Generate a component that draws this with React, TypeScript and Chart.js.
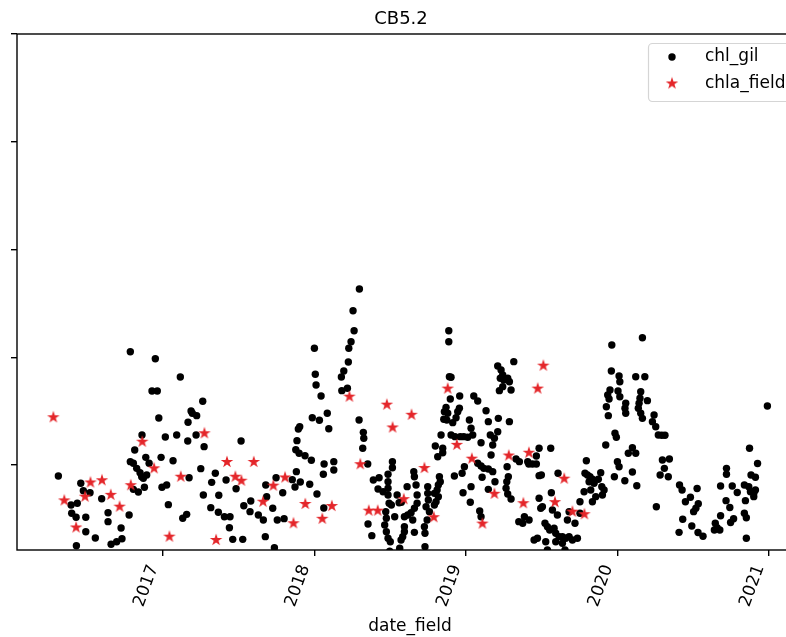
import React, { useEffect, useRef } from 'react';
import { Chart, registerables } from 'chart.js';

Chart.register(...registerables);

const TITLE = 'CB5.2';
const X_LABEL = 'date_field';
const SERIES_NAMES = ['chl_gil', 'chla_field'];
const YEAR_TICKS = [2017, 2018, 2019, 2020, 2021];
const Y_TICKS = [10, 20, 30, 40, 50];
const X_RANGE = [2016.038, 2021.226];
const Y_RANGE = [2.11, 50];

const GIL_DATES = [
  2016.311, 2016.459, 2016.476, 2016.520, 2016.436, 2016.395, 2016.399, 2016.428, 2016.492, 2016.492,
  2016.430, 2016.597, 2016.555, 2016.639, 2016.639, 2016.659, 2016.696, 2016.731, 2016.725, 2016.778,
  2016.786, 2016.815, 2016.863, 2016.888, 2016.786, 2016.806, 2016.828, 2016.850, 2016.861, 2016.872,
  2016.894, 2016.910, 2016.806, 2016.839, 2016.879,
  2016.951, 2016.929, 2016.964, 2016.974, 2017.017, 2016.989, 2016.995, 2017.026, 2017.068, 2017.092,
  2017.037, 2017.132, 2017.158, 2017.116, 2017.174, 2017.165, 2017.167, 2017.187, 2017.195, 2017.224,
  2017.220, 2017.264, 2017.251, 2017.273, 2017.268, 2017.317, 2017.323, 2017.347, 2017.370, 2017.367,
  2017.418, 2017.407, 2017.444, 2017.440, 2017.462, 2017.484, 2017.517, 2017.528, 2017.535, 2017.576,
  2017.581, 2017.631, 2017.664, 2017.677, 2017.686, 2017.680, 2017.726, 2017.748, 2017.792, 2017.756,
  2017.801, 2017.737,
  2018.298, 2018.256, 2018.263, 2018.243, 2018.228, 2018.225, 2018.195, 2018.179, 2018.219, 2018.182,
  2018.001, 2018.007, 2018.012, 2018.045, 2018.086, 2017.987, 2018.034, 2018.096, 2017.904, 2017.895,
  2017.886, 2017.878, 2017.900, 2017.939, 2017.981, 2018.065, 2018.129, 2018.129, 2018.060, 2017.882,
  2017.855, 2017.908, 2017.873, 2017.970, 2018.018, 2018.063, 2018.296, 2018.324, 2018.327, 2018.320,
  2018.353, 2018.390, 2018.428, 2018.487, 2018.516, 2018.516, 2018.421, 2018.454, 2018.487, 2018.487,
  2018.487, 2018.494, 2018.509, 2018.472, 2018.476, 2018.465, 2018.476, 2018.487, 2018.502, 2018.498,
  2018.355, 2018.380, 2018.531, 2018.560, 2018.547, 2018.575, 2018.564,
  2018.888, 2018.888, 2018.892, 2018.903, 2018.898, 2018.960, 2018.870, 2018.859, 2018.881, 2018.855,
  2018.875, 2018.914, 2018.936, 2018.958, 2018.947, 2018.837, 2018.903, 2018.929, 2018.964, 2018.987,
  2019.013, 2019.046, 2019.024, 2019.035, 2019.053, 2019.079, 2019.134, 2019.149, 2019.215, 2019.211,
  2019.288, 2019.101, 2019.162, 2019.189, 2019.178, 2019.167, 2019.079, 2019.101, 2019.119, 2019.149,
  2019.108, 2019.178, 2019.193, 2019.149, 2019.273, 2019.281, 2019.271, 2019.266, 2019.332, 2019.354,
  2019.277, 2019.299, 2019.211, 2019.233, 2019.244, 2019.228, 2019.251, 2019.277, 2019.288, 2019.244,
  2019.222, 2019.299, 2019.317, 2018.925, 2018.976, 2018.991, 2018.982, 2019.035, 2019.030, 2019.092,
  2019.101, 2019.350, 2019.376, 2019.387, 2019.409, 2019.416, 2018.799, 2018.815, 2018.848, 2018.848,
  2018.657, 2018.661, 2018.672, 2018.613, 2018.679, 2018.679, 2018.661, 2018.639, 2018.617, 2018.595,
  2018.650, 2018.595, 2018.595, 2018.584, 2018.573, 2018.661, 2018.749, 2018.749, 2018.753, 2018.738,
  2018.760, 2018.745, 2018.727, 2018.731, 2018.793, 2018.811, 2018.819, 2018.826, 2018.832, 2018.819,
  2018.804, 2018.793, 2018.731,
  2019.484, 2019.466, 2019.561, 2019.440, 2019.466, 2019.484, 2019.499, 2019.609, 2019.565, 2019.484,
  2019.506, 2019.495, 2019.572, 2019.605, 2019.671, 2019.721, 2019.418, 2019.523, 2019.539, 2019.554,
  2019.583, 2019.594, 2019.616, 2019.638, 2019.660, 2019.682, 2019.704, 2019.737, 2019.451, 2019.473,
  2019.528, 2019.594, 2019.638, 2019.539, 2019.655, 2019.682, 2019.754, 2019.754, 2019.796, 2019.787,
  2019.803, 2019.820, 2019.836, 2019.814, 2019.847, 2019.875, 2019.891, 2019.898, 2019.913, 2019.902,
  2019.858, 2019.836, 2019.825, 2019.781,
  2019.964, 2020.166, 2019.961, 2020.012, 2020.017, 2020.122, 2020.182, 2019.952, 2019.937, 2019.946,
  2019.928, 2019.941, 2020.005, 2020.017, 2020.056, 2020.051, 2020.056, 2020.155, 2020.150, 2020.144,
  2020.199, 2020.139, 2020.155, 2020.166, 2020.243, 2020.232, 2020.254, 2020.271, 2019.985, 2019.994,
  2019.924, 2020.100, 2020.122, 2020.073, 2020.001, 2020.012, 2020.100, 2019.981, 2020.050, 2020.129,
  2020.258,
  2020.991, 2020.294, 2020.315, 2020.298, 2020.344, 2020.311, 2020.283, 2020.337, 2020.411, 2020.428,
  2020.527, 2020.483, 2020.450, 2020.535, 2020.519, 2020.504, 2020.432, 2020.492, 2020.408, 2020.533,
  2020.566, 2020.682, 2020.721, 2020.721, 2020.759, 2020.792, 2020.718, 2020.743, 2020.682, 2020.768,
  2020.748, 2020.647, 2020.659, 2020.641, 2020.677, 2020.873, 2020.926, 2020.883, 2020.912, 2020.839,
  2020.868, 2020.879, 2020.901, 2020.912, 2020.901, 2020.846, 2020.839, 2020.852, 2020.852,
];

const GIL_VALUES = [
  8.98, 8.30, 7.61, 7.43, 6.45, 6.29, 5.52, 5.15, 5.15, 3.81,
  2.51, 6.87, 3.22, 5.57, 4.74, 2.64, 2.88, 3.16, 4.15, 5.36,
  20.51, 11.39, 12.78, 10.71, 10.31, 10.16, 9.69, 9.29, 8.91, 8.77,
  9.07, 10.16, 7.74, 7.49, 7.93,
  19.86, 16.87, 16.87, 14.36, 12.60, 10.71, 7.93, 8.14, 10.40, 12.78,
  6.32, 5.05, 5.42, 18.17, 8.82, 12.23, 13.96, 15.01, 14.80, 14.58,
  12.78, 15.91, 9.66, 11.70, 7.22, 6.04, 8.39, 9.23, 7.19, 5.61,
  8.61, 5.20, 5.20, 4.18, 3.10, 7.80, 12.23, 3.10, 6.22, 5.67,
  6.66, 5.36, 4.89, 3.35, 7.06, 8.14, 5.98, 8.82, 7.43, 4.89,
  5.02, 2.32,
  26.33, 24.32, 22.46, 21.44, 20.83, 19.56, 18.72, 18.17, 17.12, 16.90,
  20.83, 18.42, 17.42, 16.40, 14.80, 14.39, 14.15, 13.37, 13.55, 13.34,
  12.26, 11.42, 11.09, 10.86, 10.44, 10.09, 10.31, 9.54, 9.14, 9.38,
  8.64, 8.42, 7.96, 8.21, 7.31, 6.01, 14.17, 13.03, 12.48, 11.55,
  10.09, 8.61, 8.82, 9.14, 10.31, 9.75, 7.77, 7.52, 8.45, 7.84,
  7.22, 6.45, 6.29, 5.67, 5.05, 4.43, 3.81, 3.20, 2.88, 2.00,
  4.52, 3.44, 5.20, 6.50, 7.22, 6.54, 2.27,
  22.46, 21.44, 18.19, 18.14, 16.12, 16.40, 15.35, 14.95, 14.80, 14.24,
  14.18, 13.93, 14.39, 15.26, 14.95, 12.78, 12.78, 12.63, 12.63, 12.63,
  12.57, 12.78, 14.18, 13.41, 16.40, 15.94, 15.04, 14.02, 14.33, 13.09,
  14.02, 12.07, 12.78, 12.48, 11.86, 10.93, 10.16, 9.91, 9.69, 9.63,
  8.86, 9.38, 8.45, 7.74, 9.84, 8.91, 8.45, 7.84, 10.56, 10.31,
  7.31, 6.84, 19.19, 18.82, 18.35, 18.05, 17.89, 18.05, 17.73, 17.27,
  16.90, 16.96, 19.59, 8.98, 9.23, 9.84, 7.43, 7.99, 6.54, 5.73,
  5.20, 4.74, 4.59, 5.20, 10.31, 10.09, 11.76, 10.77, 11.55, 11.14,
  9.38, 8.91, 8.14, 7.99, 7.22, 6.45, 5.98, 5.57, 5.36, 5.20,
  4.89, 4.27, 3.81, 3.35, 3.04, 3.75, 7.99, 7.37, 6.75, 6.13,
  5.67, 4.89, 4.27, 3.66, 7.37, 7.68, 8.14, 8.91, 8.45, 7.06,
  6.59, 6.29, 2.42,
  11.55, 10.84, 11.55, 10.09, 10.09, 9.01, 9.07, 9.23, 7.43, 6.91,
  6.13, 5.98, 5.82, 5.36, 4.89, 4.59, 4.89, 4.59, 4.27, 3.97,
  4.13, 3.66, 3.35, 3.35, 3.20, 3.35, 3.04, 3.20, 3.04, 3.20,
  2.88, 2.88, 2.73, 2.11, 2.11, 5.67, 5.52, 6.59, 10.40, 9.23,
  9.07, 8.91, 8.67, 8.45, 8.30, 8.67, 9.29, 7.99, 7.68, 7.22,
  7.06, 6.59, 7.68, 7.52,
  21.14, 21.81, 18.72, 18.26, 17.73, 18.19, 18.19, 16.96, 16.50, 16.12,
  15.41, 14.58, 16.87, 16.34, 15.73, 15.26, 14.80, 16.80, 16.19, 15.73,
  15.97, 15.26, 14.80, 14.33, 14.64, 14.02, 13.55, 12.78, 12.94, 12.57,
  11.86, 11.61, 11.09, 11.09, 10.31, 9.84, 9.35, 8.91, 8.54, 8.08,
  6.13,
  15.48, 12.76, 12.76, 10.46, 10.56, 9.69, 9.07, 8.91, 8.14, 7.68,
  7.82, 7.00, 6.59, 6.41, 5.98, 5.67, 4.96, 4.34, 3.75, 3.74,
  3.38, 8.05, 9.69, 9.14, 8.05, 7.45, 6.69, 6.06, 5.29, 5.01,
  4.66, 4.59, 4.18, 3.97, 3.97, 11.55, 10.14, 9.07, 8.86, 8.14,
  7.99, 7.52, 7.37, 7.68, 7.06, 6.69, 5.52, 5.11, 3.20,
];

const FIELD_DATES = [
  2016.278, 2016.350, 2016.428, 2016.487, 2016.523, 2016.599, 2016.657, 2016.715, 2016.789, 2016.865,
  2016.943, 2017.044, 2017.119, 2017.275, 2017.352, 2017.424, 2017.479, 2017.519, 2017.601, 2017.662,
  2017.730, 2017.807, 2017.863, 2017.941, 2018.053, 2018.116, 2018.232, 2018.304, 2018.360, 2018.419,
  2018.479, 2018.517, 2018.591, 2018.642, 2018.727, 2018.789, 2018.881, 2018.941, 2019.040, 2019.110,
  2019.189, 2019.284, 2019.380, 2019.417, 2019.475, 2019.512, 2019.589, 2019.650, 2019.704, 2019.783,
];

const FIELD_VALUES = [
  14.43, 6.71, 4.20, 7.06, 8.38, 8.58, 7.23, 6.13, 8.12, 12.16,
  9.69, 3.35, 8.91, 12.94, 3.04, 10.28, 8.91, 8.54, 10.28, 6.59,
  8.08, 8.84, 4.59, 6.38, 5.01, 6.19, 16.34, 10.07, 5.76, 5.76,
  15.60, 13.48, 6.83, 14.66, 9.72, 5.15, 17.09, 11.87, 10.59, 4.56,
  7.33, 10.88, 6.45, 11.14, 17.09, 19.22, 6.55, 8.73, 5.67, 5.43,
];

const STAR_COLOR = '#e4262a';
const DOT_COLOR = '#000000';
const FONT = '"DejaVu Sans", sans-serif';

function makeStar(color: string, R: number): HTMLCanvasElement {
  const size = Math.ceil(R * 2 + 2);
  const c = document.createElement('canvas');
  c.width = size;
  c.height = size;
  const ctx = c.getContext('2d')!;
  const cx = size / 2;
  const cy = size / 2;
  const r = R * 0.381966;
  ctx.beginPath();
  for (let i = 0; i < 10; i++) {
    const ang = -Math.PI / 2 + (i * Math.PI) / 5;
    const rad = i % 2 === 0 ? R : r;
    const px = cx + rad * Math.cos(ang);
    const py = cy + rad * Math.sin(ang);
    if (i === 0) ctx.moveTo(px, py);
    else ctx.lineTo(px, py);
  }
  ctx.closePath();
  ctx.fillStyle = color;
  ctx.fill();
  return c;
}

export default function App() {
  const ref = useRef<HTMLCanvasElement>(null);

  useEffect(() => {
    const canvas = ref.current;
    if (!canvas) return;
    const star = makeStar(STAR_COLOR, 6.6);

    const decor = {
      id: 'decor',
      afterDatasetsDraw(chart: any) {
        const { ctx, chartArea: a } = chart;
        ctx.save();
        // frame (spines)
        ctx.strokeStyle = '#000';
        ctx.lineWidth = 1.4;
        ctx.strokeRect(a.left, a.top, a.right - a.left, a.bottom - a.top);
        const cx = (a.left + a.right) / 2;
        // title
        ctx.fillStyle = '#000';
        ctx.textAlign = 'center';
        ctx.textBaseline = 'alphabetic';
        ctx.font = `18px ${FONT}`;
        ctx.fillText(TITLE, cx - 9, a.top - 10);
        // x label
        ctx.font = `17px ${FONT}`;
        ctx.fillText(X_LABEL, cx, a.bottom + 81);
        // legend
        const boxW = 144;
        const boxH = 58;
        const x0 = a.right - 11 - boxW;
        const y0 = a.top + 9;
        ctx.beginPath();
        if ((ctx as any).roundRect) (ctx as any).roundRect(x0 + 0.5, y0 + 0.5, boxW, boxH, 4);
        else ctx.rect(x0 + 0.5, y0 + 0.5, boxW, boxH);
        ctx.fillStyle = 'rgba(255,255,255,0.8)';
        ctx.fill();
        ctx.strokeStyle = '#d5d5d5';
        ctx.lineWidth = 1.2;
        ctx.stroke();
        ctx.fillStyle = DOT_COLOR;
        ctx.beginPath();
        ctx.arc(x0 + 24, y0 + 14, 3.7, 0, Math.PI * 2);
        ctx.fill();
        ctx.drawImage(star, x0 + 24 - star.width / 2, y0 + 40.5 - star.height / 2);
        ctx.fillStyle = '#000';
        ctx.textAlign = 'left';
        ctx.textBaseline = 'middle';
        ctx.font = `17px ${FONT}`;
        ctx.fillText(SERIES_NAMES[0], x0 + 57, y0 + 14);
        ctx.fillText(SERIES_NAMES[1], x0 + 57, y0 + 40.5);
        ctx.restore();
      },
    };

    const gridOpts = {
      display: true,
      drawOnChartArea: false,
      drawTicks: true,
      tickLength: 6,
      color: '#000',
      lineWidth: 1.4,
    };

    const chart = new Chart(canvas, {
      type: 'scatter',
      data: {
        datasets: [
          {
            label: SERIES_NAMES[1],
            data: FIELD_DATES.map((d, i) => ({ x: d, y: FIELD_VALUES[i] })),
            pointStyle: star as any,
            pointRadius: 6,
            order: 0,
            clip: 0 as any,
          },
          {
            label: SERIES_NAMES[0],
            data: GIL_DATES.map((d, i) => ({ x: d, y: GIL_VALUES[i] })),
            pointStyle: 'circle',
            pointRadius: 3.7,
            pointBorderWidth: 0,
            backgroundColor: DOT_COLOR,
            borderColor: DOT_COLOR,
            order: 1,
            clip: 0 as any,
          },
        ],
      },
      options: {
        animation: false,
        responsive: false,
        devicePixelRatio: 1,
        layout: { autoPadding: false, padding: { top: 34, left: 0, right: 0, bottom: 0 } },
        plugins: {
          legend: { display: false },
          title: { display: false },
          tooltip: { enabled: false },
        },
        events: [],
        scales: {
          x: {
            type: 'linear',
            position: 'bottom',
            min: X_RANGE[0],
            max: X_RANGE[1],
            afterBuildTicks: (s: any) => {
              s.ticks = YEAR_TICKS.map((v) => ({ value: v }));
            },
            afterFit: (s: any) => {
              s.height = 87;
              s.paddingLeft = 0;
              s.paddingRight = 0;
            },
            grid: gridOpts,
            border: { display: false },
            ticks: {
              autoSkip: false,
              minRotation: 70,
              maxRotation: 70,
              padding: 6,
              labelOffset: -9,
              color: '#000',
              font: { family: 'DejaVu Sans', size: 17 },
              callback: (v: any) => String(v),
            },
          },
          y: {
            type: 'linear',
            min: Y_RANGE[0],
            max: Y_RANGE[1],
            afterBuildTicks: (s: any) => {
              s.ticks = Y_TICKS.map((v) => ({ value: v }));
            },
            afterFit: (s: any) => {
              s.width = 17;
              s.paddingTop = 0;
              s.paddingBottom = 0;
            },
            grid: gridOpts,
            border: { display: false },
            ticks: { display: false },
          },
        },
      } as any,
      plugins: [decor],
    });

    return () => chart.destroy();
  }, []);

  return (
    <div
      style={{
        position: 'fixed',
        left: 0,
        top: 0,
        width: 786,
        height: 637,
        overflow: 'hidden',
        background: '#fff',
      }}
    >
      <canvas ref={ref} width={803} height={637} style={{ display: 'block', width: 803, height: 637 }} />
    </div>
  );
}
